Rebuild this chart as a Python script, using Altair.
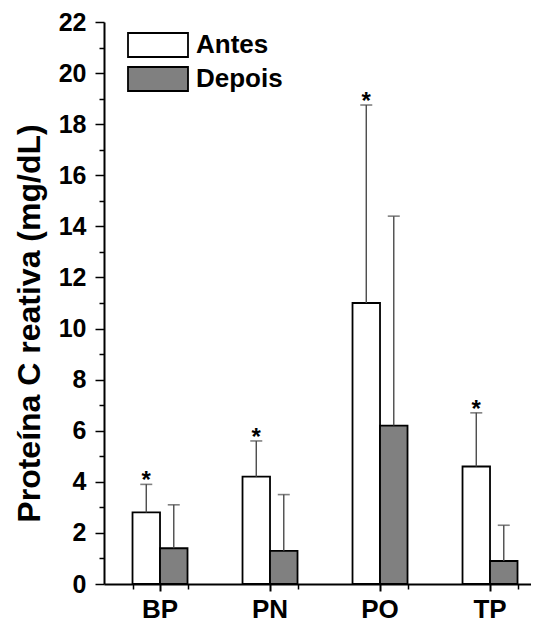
import altair as alt
import pandas as pd

groups = ["BP", "PN", "PO", "TP"]
periods = ["Antes", "Depois"]
antes = [2.8, 4.2, 11.0, 4.6]
antes_upper = [3.9, 5.6, 18.75, 6.7]
depois = [1.4, 1.3, 6.2, 0.9]
depois_upper = [3.1, 3.5, 14.4, 2.3]
y_major = list(range(0, 23, 2))
y_minor = list(range(1, 22, 2))

rows = []
for i, g in enumerate(groups):
    rows.append({"grupo": g, "periodo": "Antes", "valor": antes[i], "sup": antes_upper[i], "sig": "*"})
    rows.append({"grupo": g, "periodo": "Depois", "valor": depois[i], "sup": depois_upper[i], "sig": ""})
df = pd.DataFrame(rows)

FONT = "Liberation Sans"
H = 562

xscale = alt.Scale(domain=groups, paddingInner=0.5, paddingOuter=0.1909, align=0.679)
yscale = alt.Scale(domain=[0, 22], nice=False)
offscale = alt.Scale(domain=periods, paddingInner=0, paddingOuter=0)

x_major = alt.X("grupo:N", scale=xscale, title=None,
                axis=alt.Axis(orient="bottom", labelAngle=0, labelFont=FONT, labelFontSize=26,
                              labelFontWeight="bold", labelColor="black", labelPadding=5,
                              tickSize=7, tickWidth=2, tickColor="black",
                              domainColor="black", domainWidth=2))
x_minor = alt.X("grupo:N", scale=xscale, title=None,
                axis=alt.Axis(orient="bottom", labels=False, tickBand="extent", tickSize=5,
                              tickWidth=1.5, tickColor="black", domain=False))
y_major_enc = alt.Y("valor:Q", scale=yscale,
                    title="Proteína C reativa (mg/dL)",
                    axis=alt.Axis(orient="left", values=y_major, labelFont=FONT, labelFontSize=25,
                                  labelFontWeight="bold", labelColor="black", labelPadding=9,
                                  tickSize=9, tickWidth=1.5, tickColor="black",
                                  domainColor="black", domainWidth=2, grid=False,
                                  titleFont=FONT, titleFontSize=32, titleFontWeight="bold",
                                  titleColor="black", titlePadding=12, titleY=H / 2 + 20))
y_minor_enc = alt.Y("valor:Q", scale=yscale, title=None,
                    axis=alt.Axis(orient="left", values=y_minor, labels=False, tickSize=5,
                                  tickWidth=1.5, tickColor="black", domain=False, grid=False))

xoff = alt.XOffset("periodo:N", scale=offscale)

bars = alt.Chart(df).mark_bar(stroke="black", strokeWidth=1.8).encode(
    x=x_major,
    xOffset=xoff,
    y=y_major_enc,
    fill=alt.Fill("periodo:N", scale=alt.Scale(domain=periods, range=["white", "#808080"]),
                  legend=alt.Legend(title=None, orient="none", legendX=41, legendY=10,
                                    symbolType="M-2.5,-1H2.5V1H-2.5Z", symbolSize=576,
                                    symbolStrokeColor="black", symbolStrokeWidth=1.8,
                                    labelFont=FONT, labelFontSize=26, labelFontWeight="bold",
                                    labelColor="black", labelOffset=25, rowPadding=2,
                                    padding=0)),
)

err = alt.Chart(df).mark_rule(color="#4a4a4a", strokeWidth=1.4).encode(
    x=x_minor,
    xOffset=xoff,
    y=y_minor_enc,
    y2="sup:Q",
)

caps = alt.Chart(df).mark_tick(color="#4a4a4a", thickness=1.6, size=12).encode(
    x=alt.X("grupo:N", axis=None),
    xOffset=xoff,
    y=alt.Y("sup:Q", axis=None),
)

stars = alt.Chart(df).transform_filter(alt.datum.periodo == "Antes").mark_text(
    font=FONT, fontSize=24, fontWeight="bold", color="black", baseline="alphabetic", dy=4
).encode(
    x=alt.X("grupo:N", axis=None),
    xOffset=xoff,
    y=alt.Y("sup:Q", axis=None),
    text="sig:N",
)

chart = alt.layer(bars, err, caps, stars).resolve_axis(x="independent", y="independent").properties(
    width=427, height=H,
    autosize=alt.AutoSizeParams(type="none"),
    padding={"left": 96, "top": 14, "right": 0, "bottom": 42},
).configure_view(stroke=None)

chart.save("out.html", embed_options={"renderer": "svg", "actions": False})
